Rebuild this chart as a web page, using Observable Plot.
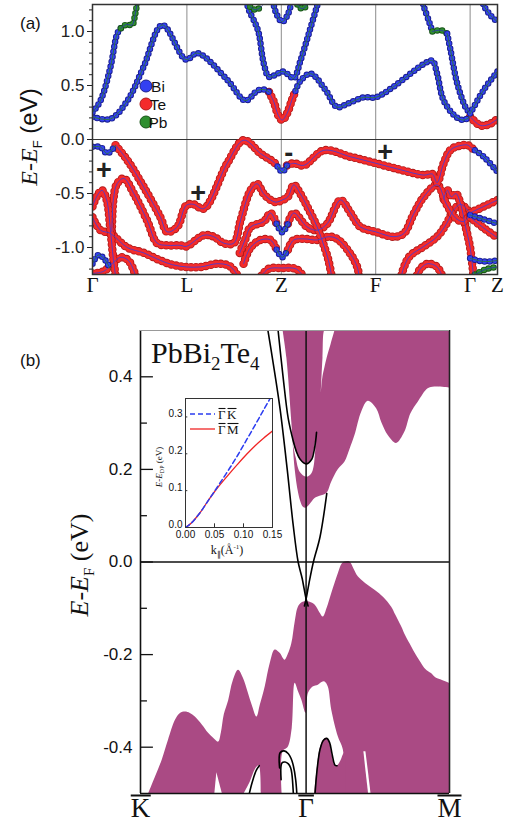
<!DOCTYPE html>
<html><head><meta charset="utf-8">
<script src="https://cdn.jsdelivr.net/npm/d3@7"></script>
<script src="https://cdn.jsdelivr.net/npm/@observablehq/plot@0.6"></script>
<style>
body{margin:0;background:#fff;}
#wrap{position:relative;width:510px;height:831px;overflow:hidden;background:#fff;}
#wrap svg{position:absolute;}
</style></head><body><div id="wrap"></div>
<script>
// ================= Panel (a) data : path coordinate (Γ=0, L=1, Z=2, F=3, Γ=4, Z=4.29), energy (eV)
const kTicksA = [0, 1, 2, 3, 4, 4.29];
const kLabelsA = ["Γ", "L", "Z", "F", "Γ", "Z"];
const eTicksA = [-1, -0.5, 0, 0.5, 1];
const eMinorA = [-1.2,-1.1,-0.9,-0.8,-0.7,-0.6,-0.4,-0.3,-0.2,-0.1,0.1,0.2,0.3,0.4,0.6,0.7,0.8,0.9,1.1,1.2];

// conduction bands
const cb1Left = [[0,0.21],[0.19,0.19],[0.37,0.36],[0.54,0.67],[0.74,1.06],[0.99,0.74],[1.11,0.80],[1.43,0.55],[1.62,0.36],[1.75,0.455],[1.83,0.46],[1.87,0.44]];
const cb1Z = [[1.87,0.44],[1.92,0.35],[1.97,0.22],[2.01,0.18],[2.06,0.24],[2.11,0.36],[2.15,0.45]];
const cb1Right = [[2.15,0.45],[2.20,0.54],[2.31,0.61],[2.47,0.456],[2.59,0.30],[2.70,0.33],[2.87,0.39],[3.0,0.39],[3.19,0.49],[3.51,0.70],[3.60,0.73],[3.65,0.61],[3.72,0.36],[3.85,0.21],[3.93,0.18],[4.0,0.21]];
const cb1End = [[4.0,0.21],[4.11,0.13],[4.2,0.14],[4.29,0.19]];
const cb2Bi = [[0,0.25],[0.085,0.36],[0.19,0.67],[0.262,0.98],[0.30,1.03]];
const cb2Pb = [[0.30,1.03],[0.36,1.065],[0.42,1.06],[0.45,1.15],[0.48,1.30]];
const cb3 = [[1.63,1.28],[1.656,1.20],[1.727,1.07],[1.762,0.98],[1.815,0.70],[1.868,0.58],[1.94,0.60],[2.01,0.63],[2.076,0.60],[2.132,0.565],[2.203,0.73],[2.291,0.98],[2.38,1.24],[2.40,1.30]];
const cb4 = [[1.91,1.28],[1.95,1.16],[2.01,1.09],[2.07,1.16],[2.11,1.28]];
const pbZ1 = [[1.67,1.23],[1.73,1.20],[1.80,1.24]];
const pbZ2 = [[2.17,1.25],[2.22,1.21],[2.27,1.24]];
const cb5Top = [[3.49,1.30],[3.51,1.23],[3.57,1.08],[3.60,1.0]];
const cb5Pb = [[3.60,1.0],[3.65,1.01],[3.70,1.01],[3.757,0.98]];
const cb5Bi = [[3.757,0.98],[3.792,0.83],[3.863,0.52],[3.951,0.30],[4.0,0.24]];
const cb6 = [[4.0,0.24],[4.145,0.46],[4.29,0.63]];
const cb7 = [[4.12,1.30],[4.145,1.24],[4.216,1.15],[4.29,1.09]];

// valence bands
const vb1Bi0 = [[0,-0.068],[0.085,-0.07],[0.156,-0.13],[0.244,-0.053]];
const vb1Te1 = [[0.244,-0.053],[0.368,-0.19],[0.543,-0.44],[0.72,-0.72],[0.791,-0.855],[0.897,-0.81],[0.993,-0.61],[1.07,-0.60],[1.179,-0.64],[1.427,-0.22],[1.603,-0.006],[1.78,-0.13],[1.921,-0.21],[1.96,-0.25]];
const vb1BiZ = [[1.96,-0.25],[2.01,-0.30],[2.06,-0.24]];
const vb1Te2 = [[2.06,-0.24],[2.132,-0.22],[2.238,-0.24],[2.45,-0.10],[2.733,-0.16],[3.0,-0.22],[3.263,-0.28],[3.51,-0.33],[3.60,-0.32],[3.65,-0.40],[3.72,-0.22],[3.80,-0.09],[3.97,-0.05],[4.0,-0.068],[4.05,-0.10]];
const vb1BiEnd = [[4.05,-0.10],[4.145,-0.16],[4.29,-0.30]];
const vb2 = [[0.205,-0.85],[0.222,-0.55],[0.26,-0.41],[0.332,-0.36],[0.437,-0.50],[0.579,-0.75],[0.685,-0.96],[0.791,-0.98],[0.932,-0.98],[0.993,-0.99],[1.179,-0.886],[1.285,-0.90],[1.391,-0.96],[1.497,-0.96],[1.568,-0.75],[1.674,-0.47],[1.745,-0.41],[1.81,-0.50],[1.87,-0.55],[1.94,-0.58],[2.01,-0.56],[2.07,-0.53],[2.132,-0.42],[2.20,-0.50],[2.274,-0.62],[2.38,-0.81],[2.45,-0.98],[2.50,-1.12],[2.54,-1.30]];
const vb3 = [[0,-0.72],[0.085,-0.84],[0.191,-0.87],[0.368,-1.0],[0.543,-1.05],[0.72,-1.12],[0.85,-1.16],[0.993,-1.18],[1.144,-1.18],[1.321,-1.15],[1.45,-1.17],[1.53,-1.25],[1.56,-1.30]];
const vb4a = [[1.56,-1.05],[1.62,-0.92],[1.674,-0.81],[1.815,-0.76],[1.886,-0.68],[1.95,-0.78]];
const vb4Z = [[1.95,-0.78],[2.01,-0.86],[2.07,-0.78]];
const vb4b = [[2.07,-0.78],[2.132,-0.68],[2.274,-0.81],[2.38,-0.84],[2.486,-0.78],[2.627,-0.56],[2.733,-0.68],[2.839,-0.81],[3.0,-0.855],[3.192,-0.90],[3.298,-0.87],[3.404,-0.685],[3.51,-0.53],[3.651,-0.42],[3.75,-0.60],[3.85,-0.73],[3.93,-0.76],[4.0,-0.70]];
const vb5a = [[1.60,-1.15],[1.674,-1.0],[1.78,-0.93],[1.886,-0.93],[1.95,-1.02]];
const vb5Z = [[1.95,-1.02],[2.01,-1.09],[2.07,-1.02]];
const vb5b = [[2.07,-1.02],[2.132,-0.93],[2.24,-0.92],[2.38,-0.93],[2.50,-0.90],[2.592,-0.92],[2.733,-1.06],[2.804,-1.18],[2.83,-1.30]];
const vb6 = [[1.76,-1.30],[1.86,-1.20],[2.01,-1.19],[2.16,-1.20],[2.26,-1.30]];
const vb7 = [[3.26,-1.30],[3.30,-1.18],[3.36,-1.08],[3.51,-0.99],[3.65,-0.90],[3.75,-0.78],[3.82,-0.66],[3.90,-0.60],[3.96,-0.64],[4.0,-0.68]];
const vb8 = [[3.72,-0.55],[3.76,-0.47],[3.80,-0.53],[3.85,-0.50],[3.90,-0.60],[3.95,-0.80],[4.0,-1.0],[4.04,-1.30]];
const vb9 = [[3.42,-1.30],[3.47,-1.20],[3.55,-1.15],[3.65,-1.18],[3.72,-1.30]];
const g1 = [[4.0,-0.68],[4.145,-0.62],[4.29,-0.56]];
const g2 = [[4.0,-0.70],[4.145,-0.74],[4.29,-0.78]];
const g3 = [[4.0,-0.72],[4.145,-0.82],[4.29,-0.91]];
const g4 = [[4.0,-1.10],[4.145,-1.13],[4.29,-1.12]];
const g5 = [[4.05,-1.25],[4.17,-1.20],[4.29,-1.18]];
const vbG1 = [[0,-0.62],[0.05,-0.52],[0.10,-0.47],[0.15,-0.56],[0.19,-0.84],[0.22,-1.10],[0.25,-1.30]];
const vbG2 = [[0,-1.15],[0.06,-1.07],[0.12,-1.10],[0.19,-1.20]];
const vbG3 = [[0,-1.24],[0.12,-1.22],[0.22,-1.14],[0.30,-1.09],[0.38,-1.12],[0.44,-1.22],[0.47,-1.30]];

const segmentsA = [
  {pts: vb3, orb:"Te"}, {pts: vbG3, orb:"Te"}, {pts: vb6, orb:"Te"}, {pts: vb9, orb:"Te"},
  {pts: vb5a, orb:"Te"}, {pts: vb5b, orb:"Te"}, {pts: vb7, orb:"Te"}, {pts: vb8, orb:"Te"},
  {pts: vb4a, orb:"Te"}, {pts: vb4b, orb:"Te"}, {pts: vb2, orb:"Te"}, {pts: vbG1, orb:"Te"},
  {pts: g1, orb:"Te"}, {pts: g3, orb:"Te"},
  {pts: vb1Te1, orb:"Te"}, {pts: vb1Te2, orb:"Te"},
  {pts: vb5Z, orb:"Bi"}, {pts: vb4Z, orb:"Bi"}, {pts: vbG2, orb:"Bi"}, {pts: g2, orb:"Bi"}, {pts: g4, orb:"Bi"}, {pts: g5, orb:"Pb"},
  {pts: vb1Bi0, orb:"Bi"}, {pts: vb1BiZ, orb:"Bi"}, {pts: vb1BiEnd, orb:"Bi"},
  {pts: cb1Z, orb:"Te"}, {pts: cb1End, orb:"Te"},
  {pts: cb1Left, orb:"Bi"}, {pts: cb1Right, orb:"Bi"},
  {pts: cb2Bi, orb:"Bi"}, {pts: cb2Pb, orb:"Pb"},
  {pts: cb3, orb:"Bi"}, {pts: cb4, orb:"Bi"}, {pts: pbZ1, orb:"Pb"}, {pts: pbZ2, orb:"Pb"},
  {pts: cb5Top, orb:"Bi"}, {pts: cb5Pb, orb:"Pb"}, {pts: cb5Bi, orb:"Bi"},
  {pts: cb6, orb:"Bi"}, {pts: cb7, orb:"Bi"}
];
const legendA = ["Bi", "Te", "Pb"];
const parityLabels = [{k:0.12, e:-0.285, s:"+"}, {k:1.12, e:-0.495, s:"+"}, {k:2.08, e:-0.13, s:"-"}, {k:3.10, e:-0.115, s:"+"}];

// ================= Panel (b) data : k along K̄(-1) – Γ̄(0) – M̄(0.866), energy (eV)
const kTicksB = [-1, 0, 0.866];
const kLabelsB = ["K", "Γ", "M"];
const eTicksB = [-0.4, -0.2, 0, 0.2, 0.4];
const eMinorB = [-0.3, -0.1, 0.1, 0.3];
const valenceTop = [[-0.95,-0.5],[-0.91,-0.465],[-0.869,-0.428],[-0.831,-0.385],[-0.789,-0.342],[-0.759,-0.327],[-0.729,-0.324],[-0.699,-0.327],[-0.669,-0.335],[-0.627,-0.352],[-0.589,-0.37],[-0.56,-0.38],[-0.528,-0.389],[-0.512,-0.37],[-0.494,-0.33],[-0.468,-0.30],[-0.44,-0.257],[-0.408,-0.234],[-0.38,-0.25],[-0.348,-0.284],[-0.325,-0.31],[-0.297,-0.335],[-0.277,-0.31],[-0.247,-0.27],[-0.217,-0.22],[-0.187,-0.19],[-0.157,-0.197],[-0.127,-0.212],[-0.108,-0.20],[-0.086,-0.176],[-0.066,-0.13],[-0.046,-0.097],[-0.024,-0.088],[0,-0.086],[0.024,-0.087],[0.054,-0.093],[0.084,-0.11],[0.104,-0.119],[0.127,-0.10],[0.155,-0.068],[0.195,-0.025],[0.217,-0.005],[0.235,0.0],[0.265,0.0],[0.289,-0.015],[0.315,-0.032],[0.361,-0.047],[0.416,-0.061],[0.47,-0.077],[0.516,-0.097],[0.542,-0.115],[0.577,-0.14],[0.602,-0.16],[0.637,-0.183],[0.663,-0.20],[0.697,-0.219],[0.723,-0.232],[0.757,-0.241],[0.783,-0.25],[0.817,-0.255],[0.866,-0.262]];
const conductionBottom = [[-0.139,0.5],[-0.116,0.44],[-0.086,0.30],[-0.066,0.20],[-0.046,0.15],[-0.030,0.128],[-0.016,0.118],[0,0.116],[0.024,0.124],[0.054,0.137],[0.084,0.142],[0.125,0.148],[0.155,0.173],[0.195,0.2],[0.235,0.216],[0.265,0.243],[0.295,0.273],[0.336,0.324],[0.375,0.347],[0.426,0.331],[0.458,0.30],[0.496,0.273],[0.546,0.256],[0.596,0.28],[0.633,0.32],[0.677,0.345],[0.737,0.374],[0.777,0.378],[0.866,0.376]];
const gapU = [[-0.078,0.255,0.262],[-0.06,0.225,0.24],[-0.036,0.194,0.222],[0.004,0.183,0.212],[0.034,0.19,0.222],[0.048,0.205,0.24],[0.058,0.24,0.262]];
const gapTop = [[0.092,0.366,0.366],[0.102,0.40,0.44],[0.114,0.42,0.5],[0.127,0.44,0.5],[0.151,0.47,0.5],[0.175,0.5,0.5]];
const gapGamma = [[-0.145,-0.5],[-0.139,-0.41],[-0.108,-0.40],[-0.084,-0.36],[-0.066,-0.262],[-0.046,-0.28],[-0.026,-0.298],[0,-0.327],[0.014,-0.284],[0.042,-0.27],[0.074,-0.266],[0.096,-0.26],[0.114,-0.259],[0.134,-0.27],[0.155,-0.32],[0.195,-0.378],[0.225,-0.406],[0.235,-0.5]];
const arcFill = [[0.052,-0.5],[0.066,-0.45],[0.084,-0.405],[0.105,-0.385],[0.125,-0.381],[0.142,-0.39],[0.157,-0.415],[0.175,-0.439],[0.19,-0.44],[0.21,-0.43],[0.226,-0.416],[0.24,-0.41]];
const gapSliver = [[0.349,-0.41,-0.41],[0.361,-0.45,-0.41],[0.377,-0.5,-0.455],[0.392,-0.5,-0.5]];
const gapSpike = [[-0.551,-0.5,-0.5],[-0.539,-0.5,-0.455],[-0.506,-0.5,-0.5]];
const gapK = [[-0.373,-0.5],[-0.337,-0.475],[-0.301,-0.445],[-0.283,-0.44],[-0.271,-0.5]];
const diracK = [[-0.235,0.51],[-0.199,0.43],[-0.157,0.33],[-0.114,0.2],[-0.078,0.08],[-0.048,0.0],[-0.024,-0.035],[0,-0.08],[0.012,-0.095]];
const diracM = [[-0.01,-0.095],[0,-0.08],[0.018,-0.045],[0.044,0.0],[0.084,0.054],[0.125,0.148]];
const uState = [[-0.169,0.5],[-0.139,0.40],[-0.108,0.31],[-0.078,0.262],[-0.06,0.24],[-0.036,0.222],[0,0.212],[0.034,0.222],[0.048,0.24],[0.058,0.262],[0.063,0.28]];
const kArcOuter = [[-0.160,-0.445],[-0.157,-0.412],[-0.133,-0.408],[-0.107,-0.414],[-0.090,-0.425],[-0.077,-0.44],[-0.063,-0.47],[-0.056,-0.5]];
const kArcInner = [[-0.151,-0.47],[-0.146,-0.434],[-0.127,-0.432],[-0.107,-0.436],[-0.093,-0.445],[-0.086,-0.457],[-0.077,-0.5]];
const mArc = [[0.054,-0.5],[0.066,-0.45],[0.084,-0.405],[0.105,-0.385],[0.125,-0.381],[0.142,-0.39],[0.157,-0.415],[0.175,-0.439],[0.187,-0.44]];
const kLine = [[-0.343,-0.5],[-0.325,-0.475],[-0.301,-0.45],[-0.283,-0.44]];

// ================= Inset data : k (1/Å), E - E_DP (eV)
const insetXTicks = [0, 0.05, 0.10, 0.15];
const insetYTicks = [0, 0.1, 0.2, 0.3];
const gammaK = [[0,0],[0.01,0.012],[0.025,0.04],[0.04,0.075],[0.05,0.098],[0.06,0.122],[0.075,0.158],[0.09,0.196],[0.105,0.237],[0.12,0.278],[0.135,0.32],[0.148,0.356]];
const gammaM = [[0,0],[0.01,0.012],[0.025,0.04],[0.04,0.075],[0.05,0.097],[0.06,0.117],[0.075,0.145],[0.09,0.172],[0.105,0.198],[0.12,0.222],[0.135,0.243],[0.15,0.262]];

// ================= styles
const SANS = "'Liberation Sans', Arial, Helvetica, sans-serif";
const SERIF = "'Liberation Serif', 'Times New Roman', serif";
const orbStyle = {
  Bi: {fill:"#3340f2", edge:"#1a1f8f", center:"#2f7d2f", size:6.5, gap:5},
  Te: {fill:"#f42b2b", edge:"#b01a1a", center:"#4a3ad0", size:8.5, gap:5},
  Pb: {fill:"#2f8f2f", edge:"#175417", center:"#2a35a8", size:6.5, gap:5}
};
const PURPLE = "#aa4a84";
const X = d => d[0], Y = d => d[1];

function addText(svg, o) {
  const t = d3.select(svg).append("text")
    .attr("transform", `translate(${o.x},${o.y})` + (o.rotate ? ` rotate(${o.rotate})` : ""))
    .attr("text-anchor", o.anchor || "start").attr("font-size", o.size)
    .attr("font-family", o.family || SANS).attr("fill", "#111");
  for (const p of o.parts) {
    const s = t.append("tspan").text(p.t);
    if (p.italic) s.attr("font-style", "italic");
    if (p.size) s.attr("font-size", p.size);
    if (p.dy) s.attr("dy", p.dy);
    if (p.dx) s.attr("dx", p.dx);
    if (p.family) s.attr("font-family", p.family);
  }
  return t.node();
}
// draw a bar over a text element (overline), positioned from the rendered glyph box
function overbar(svg, el, inset, top, sw) {
  const r = el.getBoundingClientRect(), s = svg.getBoundingClientRect();
  const y = r.top - s.top + top;
  d3.select(svg).append("line")
    .attr("x1", r.left - s.left + inset).attr("x2", r.right - s.left - inset)
    .attr("y1", y).attr("y2", y).attr("stroke", "#111").attr("stroke-width", sw);
}

// ================= Panel (a)
const dotMarks = [];
for (const s of segmentsA) {
  const st = orbStyle[s.orb];
  dotMarks.push(Plot.line(s.pts, {x: X, y: Y, curve: "catmull-rom", stroke: st.edge, strokeWidth: st.size, strokeLinecap: "round", strokeDasharray: `0 ${st.gap}`, clip: true}));
  dotMarks.push(Plot.line(s.pts, {x: X, y: Y, curve: "catmull-rom", stroke: st.fill, strokeWidth: st.size - 1.8, strokeLinecap: "round", strokeDasharray: `0 ${st.gap}`, clip: true}));
}
const centerMarks = segmentsA.map(s => Plot.line(s.pts, {x: X, y: Y, curve: "catmull-rom", stroke: orbStyle[s.orb].center, strokeWidth: 0.9, clip: true}));

const plotA = Plot.plot({
  width: 510, height: 310, marginLeft: 92, marginRight: 13, marginTop: 4, marginBottom: 36,
  style: {fontFamily: SANS, fontSize: "17px", color: "#222", background: "transparent"},
  x: {domain: [0, 4.29], axis: null},
  y: {domain: [-1.25, 1.25]},
  marks: [
    Plot.ruleX(kTicksA.slice(1, 5), {stroke: "#8c8c8c", strokeWidth: 1}),
    Plot.ruleY([0], {stroke: "#333", strokeWidth: 1.2}),
    ...dotMarks,
    ...centerMarks,
    Plot.frame({stroke: "#333", strokeWidth: 1.5}),
    Plot.axisY(eTicksA, {tickSize: 5, tickPadding: 3, tickFormat: d => d.toFixed(1), label: null, fontSize: 17}),
    Plot.axisY(eMinorA, {tickSize: 3, tickFormat: () => "", label: null}),
    Plot.text(kLabelsA, {x: (d, i) => kTicksA[i], text: d => d, frameAnchor: "bottom", dy: 17, fontSize: 21, fontFamily: SERIF, fill: "#111"}),
    Plot.text(parityLabels, {x: "k", y: "e", text: "s", fontSize: 27, fontWeight: "bold", fill: "#222"})
  ]
});
plotA.style.left = "0px"; plotA.style.top = "0px";
document.getElementById("wrap").appendChild(plotA);

addText(plotA, {x: 20, y: 29, size: 17, parts: [{t: "(a)"}]});
addText(plotA, {x: 37, y: 137, rotate: -90, anchor: "middle", size: 24, family: SERIF,
  parts: [{t: "E", italic: true}, {t: "-"}, {t: "E", italic: true}, {t: "F", size: 13, dy: 5, family: SANS}, {t: " (eV)", dy: -5, family: SANS}]});
{
  const g = d3.select(plotA).append("g");
  legendA.forEach((name, i) => {
    const cy = [86, 104, 122][i];
    g.append("circle").attr("cx", 146).attr("cy", cy).attr("r", 6).attr("fill", orbStyle[name].fill).attr("stroke", orbStyle[name].edge).attr("stroke-width", 1);
    g.append("text").attr("x", 158).attr("y", cy + 5.5).attr("font-size", 15.5).attr("font-family", SANS).attr("fill", "#111").text(name);
  });
}

// ================= Panel (b)
const areaOpt = {curve: "catmull-rom", clip: true};
const blk = {x: X, y: Y, stroke: "#000", strokeWidth: 1.6, curve: "catmull-rom", clip: true};
const plotB = Plot.plot({
  width: 510, height: 521, marginLeft: 140, marginRight: 61, marginTop: 20, marginBottom: 38,
  style: {fontFamily: SANS, fontSize: "17px", color: "#111", background: "transparent"},
  x: {domain: [-1, 0.866], axis: null},
  y: {domain: [-0.5, 0.5]},
  marks: [
    Plot.areaY(valenceTop, {x: X, y1: -0.5, y2: Y, fill: PURPLE, ...areaOpt}),
    Plot.areaY(conductionBottom, {x: X, y1: Y, y2: 0.5, fill: PURPLE, ...areaOpt}),
    Plot.areaY(gapU, {x: X, y1: d => d[1], y2: d => d[2], fill: "white", ...areaOpt}),
    Plot.areaY(gapTop, {x: X, y1: d => d[1], y2: d => d[2], fill: "white", ...areaOpt}),
    Plot.areaY(gapGamma, {x: X, y1: -0.5, y2: Y, fill: "white", ...areaOpt}),
    Plot.areaY(arcFill, {x: X, y1: -0.5, y2: Y, fill: PURPLE, ...areaOpt}),
    Plot.areaY(gapSliver, {x: X, y1: d => d[1], y2: d => d[2], fill: "white", curve: "linear", clip: true}),
    Plot.areaY(gapSpike, {x: X, y1: d => d[1], y2: d => d[2], fill: "white", curve: "linear", clip: true}),
    Plot.areaY(gapK, {x: X, y1: -0.5, y2: Y, fill: "white", ...areaOpt}),
    Plot.ruleY([0], {stroke: "#111", strokeWidth: 1.3}),
    Plot.ruleX([0], {stroke: "#111", strokeWidth: 1.5}),
    Plot.line(diracK, blk), Plot.line(diracM, blk), Plot.line(uState, blk),
    Plot.line(kArcOuter, blk), Plot.line(kArcInner, blk), Plot.line(mArc, blk), Plot.line(kLine, blk),
    Plot.ruleX([-1], {stroke: "#111", strokeWidth: 1.6}),
    Plot.ruleX([0.866], {stroke: "#222", strokeWidth: 1.6}),
    Plot.ruleY([-0.5], {stroke: "#111", strokeWidth: 1.6}),
    Plot.ruleY([0.5], {stroke: "#999", strokeWidth: 1}),
    Plot.ruleY(eTicksB, {x1: -1, x2: -0.922, stroke: "#111", strokeWidth: 1.3}),
    Plot.ruleY(eMinorB, {x1: -1, x2: -0.958, stroke: "#111", strokeWidth: 1.3}),
    Plot.axisY(eTicksB, {tickSize: 0, tickPadding: 8, tickFormat: d => d.toFixed(1), label: null, fontSize: 17}),
    Plot.text(kLabelsB, {x: (d, i) => kTicksB[i], text: d => d, frameAnchor: "bottom", dy: 23, fontSize: 27, fontFamily: SERIF, fill: "#111"})
  ]
});
plotB.style.left = "0px"; plotB.style.top = "310px";
document.getElementById("wrap").appendChild(plotB);
d3.select(plotB).selectAll("text").filter(function () { return kLabelsB.includes(this.textContent); })
  .each(function () { overbar(plotB, this, 0, 3, 2); });
addText(plotB, {x: 20, y: 56, size: 17, parts: [{t: "(b)"}]});
addText(plotB, {x: 88, y: 255, rotate: -90, anchor: "middle", size: 26, family: SERIF,
  parts: [{t: "E", italic: true}, {t: "-"}, {t: "E", italic: true}, {t: "F", size: 15, dy: 6}, {t: " (eV)", dy: -6}]});
addText(plotB, {x: 151, y: 53, size: 30, family: SERIF,
  parts: [{t: "PbBi"}, {t: "2", size: 19, dy: 7}, {t: "Te", dy: -7}, {t: "4", size: 19, dy: 7}]});

// ================= Inset
const plotI = Plot.plot({
  width: 139, height: 166, marginLeft: 40, marginRight: 12, marginTop: 5, marginBottom: 32,
  style: {fontFamily: SANS, fontSize: "10px", color: "#111", background: "transparent", overflow: "visible"},
  x: {domain: [0, 0.15]},
  y: {domain: [0, 0.35]},
  marks: [
    Plot.line(gammaM, {x: X, y: Y, stroke: "#f02424", strokeWidth: 1.3, curve: "catmull-rom", clip: true}),
    Plot.line(gammaK, {x: X, y: Y, stroke: "#2b3cf0", strokeWidth: 1.5, strokeDasharray: "5,3", curve: "catmull-rom", clip: true}),
    Plot.frame({stroke: "#333", strokeWidth: 1}),
    Plot.ruleY(insetYTicks, {x1: 0, x2: 0.004, stroke: "#333"}),
    Plot.ruleX(insetXTicks, {y1: 0, y2: 0.01, stroke: "#333"}),
    Plot.axisX(insetXTicks, {tickSize: 0, tickPadding: 3, tickFormat: d => d.toFixed(2), label: null, fontSize: 10}),
    Plot.axisY(insetYTicks, {tickSize: 0, tickPadding: 3, dy: -3, tickFormat: d => d.toFixed(1), label: null, fontSize: 10})
  ]
});
plotI.style.left = "145px"; plotI.style.top = "393px";
document.getElementById("wrap").appendChild(plotI);
{
  const g = d3.select(plotI).append("g");
  g.append("line").attr("x1", 45).attr("x2", 70).attr("y1", 21).attr("y2", 21).attr("stroke", "#2b3cf0").attr("stroke-width", 1.5).attr("stroke-dasharray", "5,3");
  g.append("line").attr("x1", 45).attr("x2", 70).attr("y1", 36).attr("y2", 36).attr("stroke", "#f02424").attr("stroke-width", 1.3);
}
{
  const gk1 = addText(plotI, {x: 73, y: 26, size: 13, family: SERIF, parts: [{t: "Γ"}]});
  const gk2 = addText(plotI, {x: 82, y: 26, size: 13, family: SERIF, parts: [{t: "K"}]});
  const gm1 = addText(plotI, {x: 73, y: 41, size: 13, family: SERIF, parts: [{t: "Γ"}]});
  const gm2 = addText(plotI, {x: 82, y: 41, size: 13, family: SERIF, parts: [{t: "M"}]});
  for (const el of [gk1, gk2, gm1, gm2]) overbar(plotI, el, 0.5, 1.5, 1.1);
}
addText(plotI, {x: 82, y: 161, anchor: "middle", size: 12, family: SERIF,
  parts: [{t: "k"}, {t: "∥", size: 8, dy: 3}, {t: "(Å", dy: -3}, {t: "-1", size: 7, dy: -5}, {t: ")", dy: 5}]});
addText(plotI, {x: 17, y: 74, rotate: -90, anchor: "middle", size: 9, family: SERIF,
  parts: [{t: "E", italic: true}, {t: "-"}, {t: "E", italic: true}, {t: "DP", size: 6, dy: 2}, {t: " (eV)", dy: -2}]});
</script></body></html>
